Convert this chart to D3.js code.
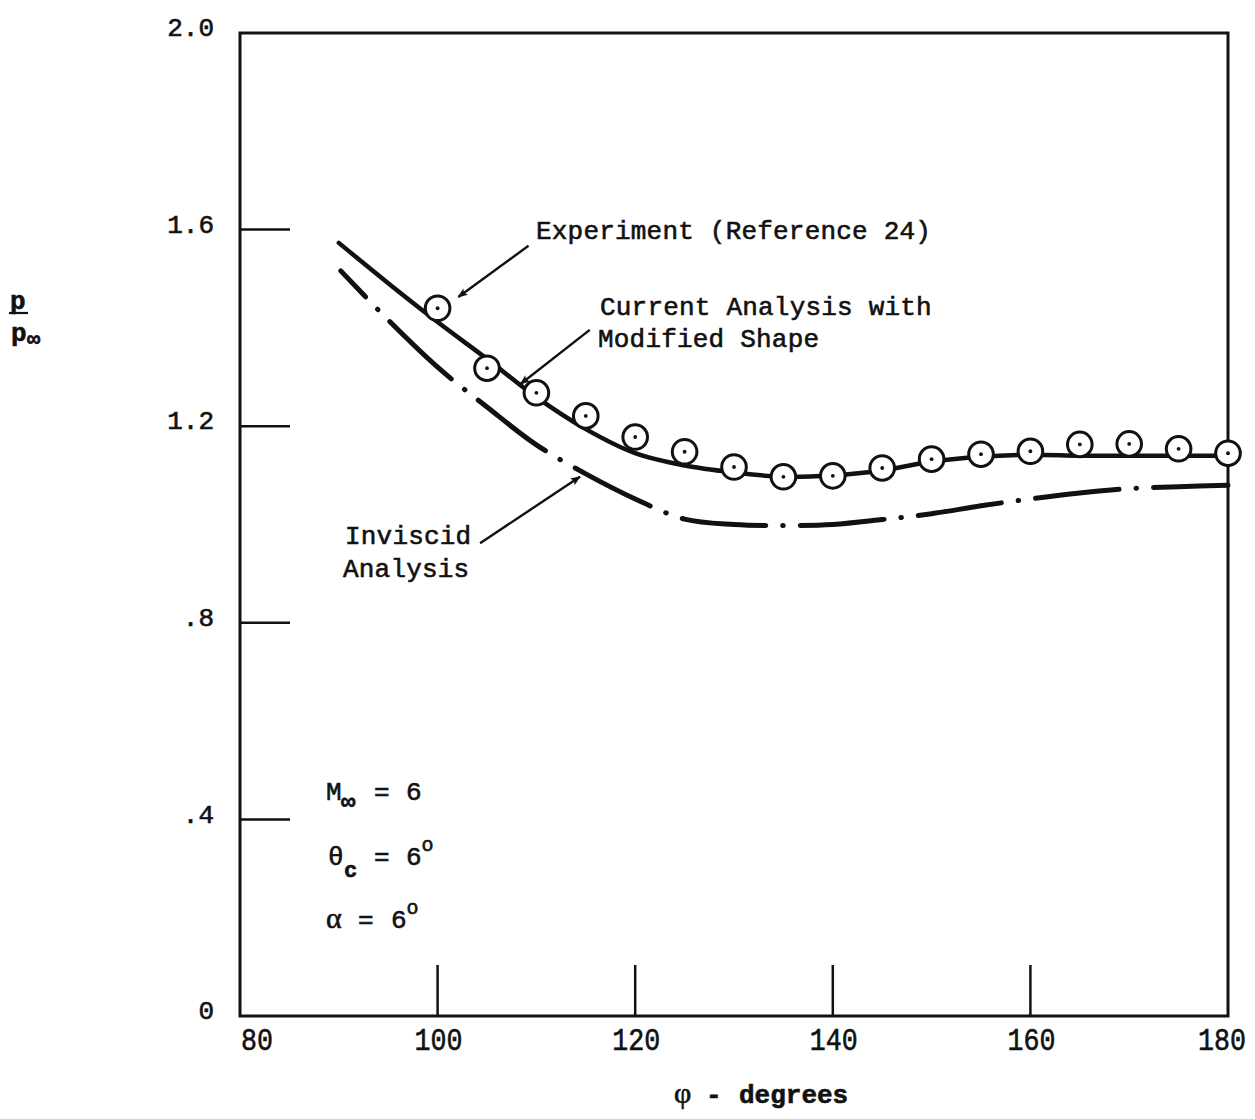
<!DOCTYPE html>
<html>
<head>
<meta charset="utf-8">
<script src="https://cdn.jsdelivr.net/npm/d3@7"></script>
<style>
  body { margin: 0; background: #fff; }
  svg { display: block; }
  text { font-family: "Liberation Mono", "DejaVu Sans Mono", monospace; fill: #111; stroke: #111; stroke-width: 0.6px; }
</style>
</head>
<body>
<div id="chart"></div>
<script>
// x: phi (degrees), y: p / p_inf
const xTicks = [80, 100, 120, 140, 160, 180];
const yTicks = [0, 0.4, 0.8, 1.2, 1.6, 2.0];
const yTickLabels = ["0", ".4", ".8", "1.2", "1.6", "2.0"];

// experiment (Reference 24)
const expPhi = [100, 105, 110, 115, 120, 125, 130, 135, 140, 145, 150, 155, 160, 165, 170, 175, 180];
const expP = [1.440, 1.318, 1.268, 1.221, 1.178, 1.148, 1.117, 1.097, 1.099, 1.115, 1.133, 1.143, 1.149, 1.163, 1.164, 1.154, 1.145];

// current analysis with modified shape
const curPhi = [90, 95, 100, 105, 110, 115, 120, 125, 130, 135, 140, 145, 150, 155, 160, 165, 170, 175, 180];
const curP = [1.573, 1.491, 1.412, 1.337, 1.259, 1.194, 1.145, 1.120, 1.106, 1.097, 1.100, 1.110, 1.128, 1.138, 1.142, 1.140, 1.140, 1.140, 1.140];

// inviscid analysis
const invPhi = [90.2, 95, 100, 105, 110, 115, 120, 125, 130, 135, 140, 145, 150, 155, 160, 165, 170, 175, 180];
const invP = [1.516, 1.416, 1.320, 1.239, 1.162, 1.103, 1.052, 1.011, 1.000, 0.998, 1.000, 1.010, 1.022, 1.038, 1.052, 1.064, 1.073, 1.077, 1.080];

// arrows: [fromPhi, fromP, toPhi, toP]
const arrows = [
  [109.2, 1.567, 102.1, 1.463],
  [115.4, 1.396, 108.4, 1.286],
  [104.3, 0.962, 114.4, 1.097]
];

const W = 1255, H = 1119;
const svg = d3.select("#chart").append("svg")
  .attr("width", W)
  .attr("height", H);

const x = d3.scaleLinear().domain([80, 180]).range([240, 1228]);
const y = d3.scaleLinear().domain([0, 2]).range([1016, 33]);

const defs = svg.append("defs");
defs.append("marker")
  .attr("id", "head")
  .attr("viewBox", "0 0 10 10")
  .attr("refX", 9).attr("refY", 5)
  .attr("markerWidth", 18).attr("markerHeight", 10)
  .attr("markerUnits", "userSpaceOnUse")
  .attr("orient", "auto")
  .append("path")
  .attr("d", "M0,1 L10,5 L0,9 L2,5 Z")
  .attr("fill", "#111");

// frame
svg.append("rect")
  .attr("x", x(80)).attr("y", y(2))
  .attr("width", x(180) - x(80))
  .attr("height", y(0) - y(2))
  .attr("fill", "none")
  .attr("stroke", "#111")
  .attr("stroke-width", 3);

// inner ticks
svg.append("g")
  .selectAll("line")
  .data(yTicks.filter(d => d > 0 && d < 2))
  .join("line")
  .attr("x1", x(80)).attr("x2", x(80) + 50)
  .attr("y1", d => y(d)).attr("y2", d => y(d))
  .attr("stroke", "#111").attr("stroke-width", 2.5);

svg.append("g")
  .selectAll("line")
  .data(xTicks.filter(d => d > 80 && d < 180))
  .join("line")
  .attr("x1", d => x(d)).attr("x2", d => x(d))
  .attr("y1", y(0)).attr("y2", y(0) - 51)
  .attr("stroke", "#111").attr("stroke-width", 2.5);

// tick labels
svg.append("g")
  .selectAll("text")
  .data(yTicks)
  .join("text")
  .attr("x", 214)
  .attr("y", d => y(d) - 6)
  .attr("dy", "0.35em")
  .attr("text-anchor", "end")
  .attr("font-size", 26)
  .text((d, i) => yTickLabels[i]);

const xLabelPos = d => d === 80 ? x(d) + 17 : d === 180 ? x(d) - 6 : x(d) + 1;
svg.append("g")
  .selectAll("text")
  .data(xTicks)
  .join("text")
  .attr("x", xLabelPos)
  .attr("y", y(0) + 34)
  .attr("text-anchor", "middle")
  .attr("font-family", "'Liberation Sans', sans-serif")
  .attr("font-size", 31)
  .attr("transform", d => `translate(${xLabelPos(d)},0) scale(0.86,1) translate(${-xLabelPos(d)},0)`)
  .text(d => d);

// curves
const line = d3.line()
  .x(d => x(d[0]))
  .y(d => y(d[1]))
  .curve(d3.curveCatmullRom.alpha(0.5));

svg.append("path")
  .datum(invPhi.map((d, i) => [d, invP[i]]))
  .attr("d", line)
  .attr("fill", "none")
  .attr("stroke", "#111")
  .attr("stroke-width", 5)
  .attr("stroke-linecap", "round")
  .attr("stroke-dasharray", "84,17,0.5,17")
  .attr("stroke-dashoffset", 48);

svg.append("path")
  .datum(curPhi.map((d, i) => [d, curP[i]]))
  .attr("d", line)
  .attr("fill", "none")
  .attr("stroke", "#111")
  .attr("stroke-width", 4.5)
  .attr("stroke-linecap", "round");

// experiment symbols
const pts = svg.append("g")
  .selectAll("g")
  .data(expPhi.map((d, i) => [d, expP[i]]))
  .join("g")
  .attr("transform", d => `translate(${x(d[0])},${y(d[1])})`);
pts.append("circle")
  .attr("r", 12.3)
  .attr("fill", "#fff")
  .attr("stroke", "#111")
  .attr("stroke-width", 3);
pts.append("circle")
  .attr("r", 1.9)
  .attr("fill", "#111");

// arrows
svg.append("g")
  .selectAll("line")
  .data(arrows)
  .join("line")
  .attr("x1", d => x(d[0])).attr("y1", d => y(d[1]))
  .attr("x2", d => x(d[2])).attr("y2", d => y(d[3]))
  .attr("stroke", "#111")
  .attr("stroke-width", 2.4)
  .attr("marker-end", "url(#head)");

// annotations
const note = (tx, ty, s) => svg.append("text")
  .attr("x", tx).attr("y", ty)
  .attr("font-size", 26)
  .attr("letter-spacing", 0.2)
  .text(s);

note(536, 239, "Experiment (Reference 24)");
note(600, 315, "Current Analysis with");
note(598, 347, "Modified Shape");
note(345, 544, "Inviscid");
note(343, 577, "Analysis");

// flow conditions
const cond = svg.append("g").attr("font-size", 26);
const t1 = cond.append("text").attr("x", 326).attr("y", 800);
t1.append("tspan").text("M");
t1.append("tspan").attr("x", 341).attr("dy", 9).attr("font-size", 24).attr("font-weight", "bold").text("∞");
t1.append("tspan").attr("x", 374).attr("dy", -9).text("=");
t1.append("tspan").attr("x", 406).text("6");

const t2 = cond.append("text").attr("x", 328).attr("y", 865);
t2.append("tspan").text("θ");
t2.append("tspan").attr("x", 344).attr("dy", 12).attr("font-weight", "bold").attr("font-size", 22).text("c");
t2.append("tspan").attr("x", 374).attr("dy", -12).text("=");
t2.append("tspan").attr("x", 406).text("6");
t2.append("tspan").attr("dy", -14).attr("font-size", 20).text("o");

const t3 = cond.append("text").attr("x", 326).attr("y", 928);
t3.append("tspan").attr("font-family", "'Liberation Serif', serif").attr("font-size", 30).text("α");
t3.append("tspan").attr("x", 358).text("=");
t3.append("tspan").attr("x", 391).text("6");
t3.append("tspan").attr("dy", -14).attr("font-size", 20).text("o");

// y axis title: p / p_inf
const yt = svg.append("g").attr("font-weight", "bold");
yt.append("text").attr("x", 10).attr("y", 309).attr("font-size", 26).text("p");
yt.append("line")
  .attr("x1", 9).attr("x2", 28)
  .attr("y1", 313).attr("y2", 313)
  .attr("stroke", "#111").attr("stroke-width", 2.2);
const yt2 = yt.append("text").attr("x", 11).attr("y", 341).attr("font-size", 26);
yt2.append("tspan").text("p");
yt2.append("tspan").attr("x", 27).attr("dy", 5).attr("font-size", 22).text("∞");

// x axis title
const xt = svg.append("text")
  .attr("x", 674).attr("y", 1103)
  .attr("font-size", 26)
  .attr("font-weight", "bold");
xt.append("tspan").attr("font-family", "'Liberation Serif', serif").attr("font-weight", "normal").attr("font-size", 30).text("φ");
xt.append("tspan").attr("x", 706).text("-");
xt.append("tspan").attr("x", 739).text("degrees");
</script>
</body>
</html>
